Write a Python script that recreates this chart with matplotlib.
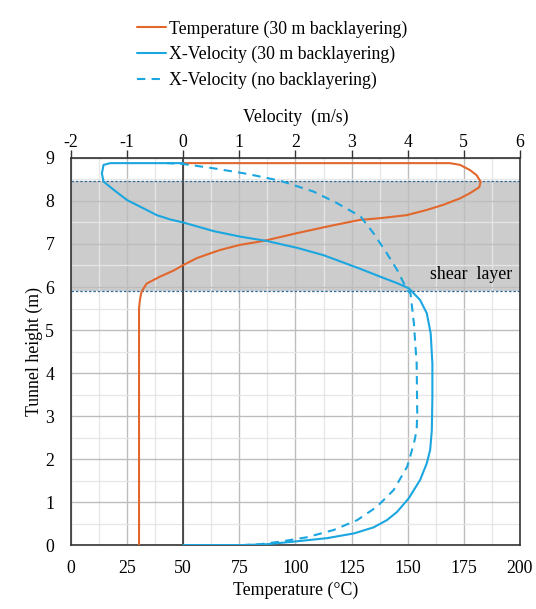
import matplotlib.pyplot as plt
import matplotlib as mpl

mpl.rcParams["font.family"] = ["Liberation Serif", "DejaVu Serif"]
mpl.rcParams["font.size"] = 12.8
mpl.rcParams["axes.unicode_minus"] = False

# temperature profile, 30 m backlayering (degC, m)
temp_c = [30.3, 30.3, 30.3, 30.7, 31.4, 33.7, 39.6, 45.6, 50.0, 56.0, 61.9,
          66.4, 75.3, 85.7, 100.5, 115.4, 128.7, 137.6, 149.5, 158.4, 165.8,
          173.3, 177.7, 181.9, 182.5, 180.7, 177.7, 173.3, 168.8, 150.0, 50.0]
temp_h = [0.0, 3.0, 5.5, 5.70, 5.89, 6.08, 6.24, 6.38, 6.51, 6.67, 6.78,
          6.86, 6.98, 7.07, 7.25, 7.42, 7.56, 7.60, 7.67, 7.79, 7.91,
          8.06, 8.18, 8.32, 8.45, 8.60, 8.72, 8.84, 8.88, 8.88, 8.88]

# x-velocity, 30 m backlayering (m/s, m)
vel_bl = [0.0, 1.07, 1.49, 1.97, 2.56, 3.04, 3.39, 3.63, 3.81, 4.02, 4.22,
          4.34, 4.40, 4.43, 4.44, 4.44, 4.41, 4.34, 4.22, 4.05, 4.02, 3.81,
          3.51, 3.16, 2.50, 2.03, 1.49, 1.02, 0.54, 0.0, -0.23, -0.47, -0.71,
          -1.0, -1.24, -1.42, -1.45, -1.42, -1.30, 0.0]
vel_bl_h = [0.0, 0.0, 0.02, 0.08, 0.16, 0.27, 0.41, 0.58, 0.77, 1.09, 1.51,
            1.90, 2.21, 2.67, 3.45, 4.22, 4.92, 5.39, 5.70, 5.93, 5.97, 6.09,
            6.24, 6.42, 6.74, 6.91, 7.07, 7.17, 7.30, 7.50, 7.57, 7.67, 7.83,
            8.02, 8.26, 8.45, 8.64, 8.84, 8.88, 8.88]

# x-velocity, no backlayering (m/s, m)
vel_nb = [0.0, 1.07, 1.37, 1.73, 2.20, 2.68, 3.10, 3.45, 3.75, 3.99, 4.11,
          4.16, 4.17, 4.16, 4.11, 4.05, 3.99, 3.93, 3.81, 3.63, 3.39, 3.16,
          2.74, 2.32, 1.73, 1.14, 0.54, 0.0, -0.29]
vel_nb_h = [0.0, 0.0, 0.02, 0.08, 0.18, 0.35, 0.58, 0.89, 1.28, 1.82, 2.36,
            2.67, 3.06, 4.22, 5.16, 5.85, 5.93, 6.09, 6.40, 6.78, 7.25, 7.64,
            7.95, 8.22, 8.47, 8.63, 8.76, 8.86, 8.88]

shear_bottom, shear_top = 5.9, 8.46

orange = "#E2672C"
blue = "#1BA6E0"

fig = plt.figure(figsize=(5.36, 6.09), dpi=100)
ax = fig.add_axes([0.1325, 0.105, 0.8375, 0.6356])

ax.axhspan(shear_bottom, shear_top, color="#cccccc", zorder=0.2, lw=0)
for yb in (shear_bottom, shear_top):
    ax.axhline(yb, color="#2E6E9E", lw=0.9, ls=(0, (2, 1.5)), zorder=2)

ax.set_xlim(0, 200)
ax.set_ylim(0, 9)
ax.set_xticks(range(0, 201, 25))
ax.set_xticks([12.5 + 25 * i for i in range(8)], minor=True)
ax.set_yticks(range(0, 10))
ax.set_yticks([0.5 + i for i in range(9)], minor=True)
ax.grid(which="major", color="#bdbdbd", lw=1.0, zorder=0.5)
ax.grid(which="minor", color="#e6e6e6", lw=0.9, zorder=0.4)
ax.set_axisbelow(True)
ax.tick_params(which="both", length=0)
ax.tick_params(axis="x", pad=11)
ax.tick_params(axis="y", pad=12)
ax.axvline(50, color="#333333", lw=1.2, zorder=1.5)
for s in ax.spines.values():
    s.set_color("#333333")
    s.set_linewidth(1.2)

ax.set_xlabel("Temperature (°C)", labelpad=3)
ax.set_ylabel("Tunnel height (m)", labelpad=2)

line_kw = dict(lw=1.5, zorder=3, solid_joinstyle="round", solid_capstyle="round")
t_line, = ax.plot(temp_c, temp_h, color=orange, **line_kw)

ax2 = ax.twiny()
ax2.set_xlim(-2, 6)
ax2.set_xticks(range(-2, 7))
ax2.tick_params(direction="out", length=6, width=1, color="#333333", pad=-1)
ax2.set_xlabel("Velocity  (m/s)", labelpad=9)
for s in ax2.spines.values():
    s.set_visible(False)
v_line, = ax2.plot(vel_bl, vel_bl_h, color=blue, **line_kw)
n_line, = ax2.plot(vel_nb, vel_nb_h, color=blue, lw=1.5, ls=(0, (4, 3)),
                   zorder=3)

ax.text(196.5, 6.30, "shear  layer", ha="right", va="center")

fig.legend([t_line, v_line, n_line],
           ["Temperature (30 m backlayering)",
            "X-Velocity (30 m backlayering)",
            "X-Velocity (no backlayering)"],
           loc="upper center", bbox_to_anchor=(0.508, 0.993), frameon=False,
           handlelength=1.65, handletextpad=0.15, labelspacing=0.48)

fig.savefig("out.png", dpi=100)
